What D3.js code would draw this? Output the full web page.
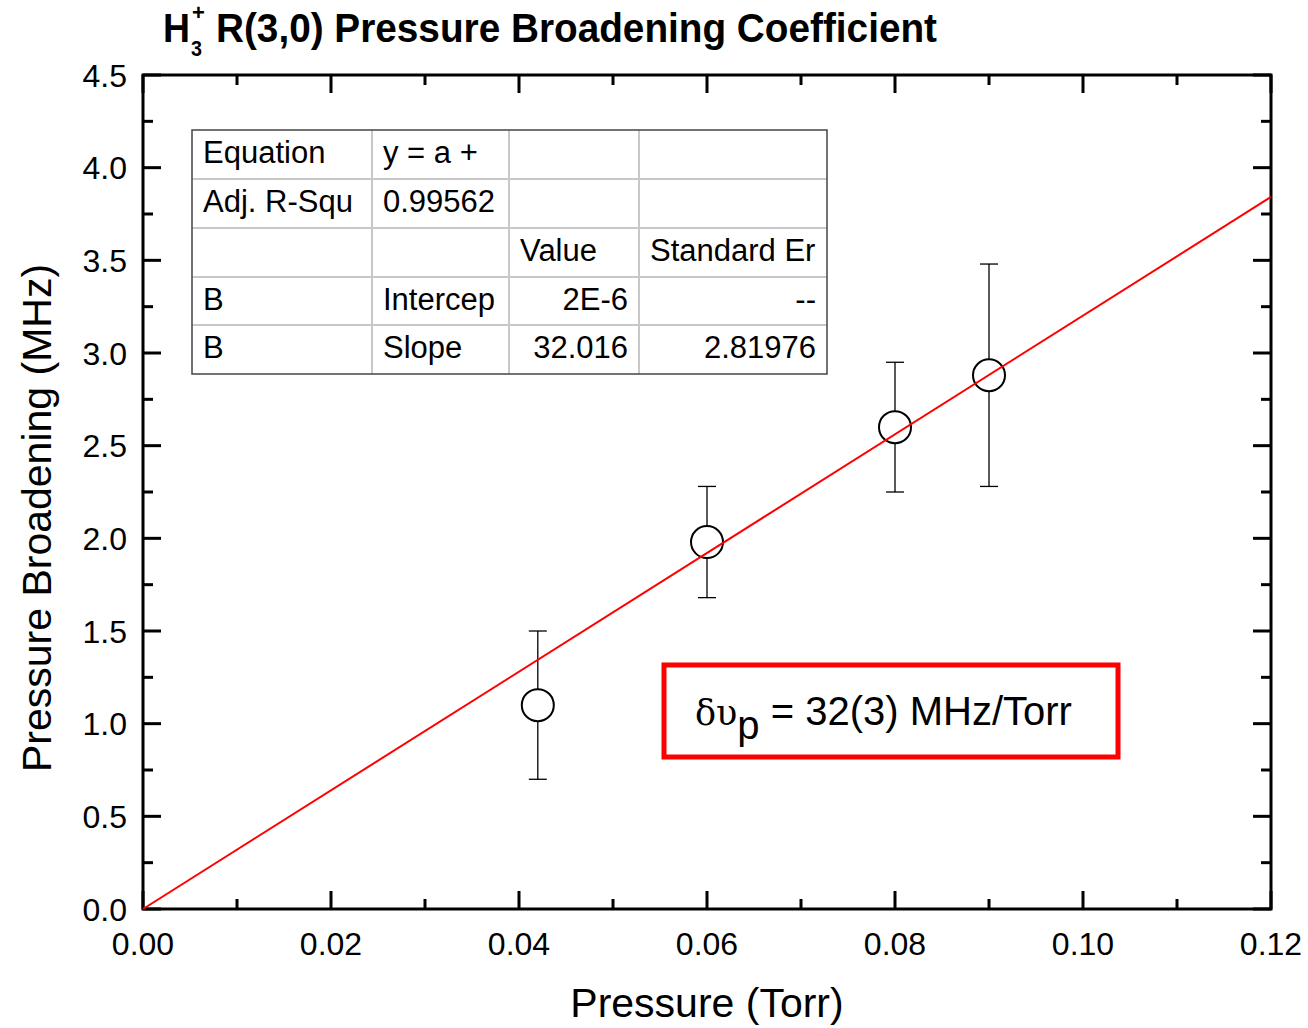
<!DOCTYPE html>
<html><head><meta charset="utf-8">
<script src="https://cdn.jsdelivr.net/npm/d3@7"></script>
<style>body{margin:0;background:#fff}svg{display:block}</style>
</head><body><svg id="c" width="1308" height="1028"></svg>
<script>
const pressure = [0.042, 0.06, 0.08, 0.09];
const broadening = [1.10, 1.98, 2.60, 2.88];
const errors = [0.40, 0.30, 0.35, 0.60];
const fitIntercept = 2e-6, fitSlope = 32.016;
const xMajor = [0, 0.02, 0.04, 0.06, 0.08, 0.10, 0.12];
const xMinor = [0.01, 0.03, 0.05, 0.07, 0.09, 0.11];
const yMajor = [0, 0.5, 1.0, 1.5, 2.0, 2.5, 3.0, 3.5, 4.0, 4.5];
const yMinor = [0.25, 0.75, 1.25, 1.75, 2.25, 2.75, 3.25, 3.75, 4.25];
const tableRows = [
  ["Equation", "y = a +", "", ""],
  ["Adj. R-Squ", "0.99562", "", ""],
  ["", "", "Value", "Standard Er"],
  ["B", "Intercep", "2E-6", "--"],
  ["B", "Slope", "32.016", "2.81976"]
];

const svg = d3.select("#c");
const L = 143, R = 1271, T = 75, B = 909;
const x = d3.scaleLinear().domain([0, 0.12]).range([L, R]);
const y = d3.scaleLinear().domain([0, 4.5]).range([B, T]);
const font = "'Liberation Sans', Arial, sans-serif";

// ticks (inward, all four sides)
const tk = svg.append("g").attr("stroke", "#000").attr("stroke-width", 3);
function tickX(vals, len) {
  vals.forEach(v => {
    tk.append("line").attr("x1", x(v)).attr("x2", x(v)).attr("y1", B).attr("y2", B - len);
    tk.append("line").attr("x1", x(v)).attr("x2", x(v)).attr("y1", T).attr("y2", T + len);
  });
}
function tickY(vals, len) {
  vals.forEach(v => {
    tk.append("line").attr("y1", y(v)).attr("y2", y(v)).attr("x1", L).attr("x2", L + len);
    tk.append("line").attr("y1", y(v)).attr("y2", y(v)).attr("x1", R).attr("x2", R - len);
  });
}
tickX(xMajor, 18); tickX(xMinor, 10);
tickY(yMajor, 18); tickY(yMinor, 10);

// frame
svg.append("rect").attr("x", L).attr("y", T).attr("width", R - L).attr("height", B - T)
  .attr("fill", "none").attr("stroke", "#000").attr("stroke-width", 3);

// tick labels
svg.append("g").selectAll("text").data(xMajor).join("text")
  .attr("x", d => x(d)).attr("y", 955).attr("text-anchor", "middle")
  .attr("font-family", font).attr("font-size", 32).text(d3.format(".2f"));
svg.append("g").selectAll("text").data(yMajor).join("text")
  .attr("x", 127).attr("y", d => y(d) + 11.5).attr("text-anchor", "end")
  .attr("font-family", font).attr("font-size", 32).text(d3.format(".1f"));

// axis titles
svg.append("text").attr("x", (L + R) / 2).attr("y", 1017).attr("text-anchor", "middle")
  .attr("font-family", font).attr("font-size", 41).text("Pressure (Torr)");
svg.append("text").attr("transform", `translate(51,${(T + B) / 2 + 26}) rotate(-90)`)
  .attr("text-anchor", "middle").attr("font-family", font).attr("font-size", 41)
  .text("Pressure Broadening (MHz)");

// title
const tg = svg.append("g").attr("font-family", font).attr("font-weight", "bold");
tg.append("text").attr("x", 163).attr("y", 42).attr("font-size", 40)
  .attr("textLength", 27).attr("lengthAdjust", "spacingAndGlyphs").text("H");
tg.append("text").attr("x", 192).attr("y", 20).attr("font-size", 22).text("+");
tg.append("text").attr("x", 191).attr("y", 56).attr("font-size", 22)
  .attr("textLength", 11).attr("lengthAdjust", "spacingAndGlyphs").text("3");
tg.append("text").attr("x", 216).attr("y", 42).attr("font-size", 40)
  .attr("textLength", 721).attr("lengthAdjust", "spacingAndGlyphs")
  .text("R(3,0) Pressure Broadening Coefficient");

// table
const colX = [192, 372, 509, 639, 827];
const rowY = [130, 179, 228, 277, 325, 374];
const tb = svg.append("g");
rowY.slice(1, -1).forEach(ry => tb.append("line").attr("x1", colX[0]).attr("x2", colX[4])
  .attr("y1", ry).attr("y2", ry).attr("stroke", "#c8c8c8").attr("stroke-width", 2));
colX.slice(1, -1).forEach(cx => tb.append("line").attr("x1", cx).attr("x2", cx)
  .attr("y1", rowY[0]).attr("y2", rowY[5]).attr("stroke", "#c8c8c8").attr("stroke-width", 2));
tb.append("rect").attr("x", colX[0]).attr("y", rowY[0]).attr("width", colX[4] - colX[0])
  .attr("height", rowY[5] - rowY[0]).attr("fill", "none").attr("stroke", "#444").attr("stroke-width", 1.5);
tableRows.forEach((row, ri) => {
  row.forEach((cell, ci) => {
    if (!cell) return;
    const rightAlign = ri >= 3 && ci >= 2;
    tb.append("text")
      .attr("x", rightAlign ? colX[ci + 1] - 11 : colX[ci] + 11)
      .attr("y", rowY[ri] + 33)
      .attr("text-anchor", rightAlign ? "end" : "start")
      .attr("font-family", font).attr("font-size", 31).text(cell);
  });
});

// error bars and points
const pts = pressure.map((p, i) => ({p, b: broadening[i], e: errors[i]}));
const eb = svg.append("g").attr("stroke", "#000").attr("stroke-width", 1.3);
pts.forEach(d => {
  eb.append("line").attr("x1", x(d.p)).attr("x2", x(d.p)).attr("y1", y(d.b + d.e)).attr("y2", y(d.b - d.e));
  eb.append("line").attr("x1", x(d.p) - 9).attr("x2", x(d.p) + 9).attr("y1", y(d.b + d.e)).attr("y2", y(d.b + d.e));
  eb.append("line").attr("x1", x(d.p) - 9).attr("x2", x(d.p) + 9).attr("y1", y(d.b - d.e)).attr("y2", y(d.b - d.e));
});
svg.append("g").selectAll("circle").data(pts).join("circle")
  .attr("cx", d => x(d.p)).attr("cy", d => y(d.b)).attr("r", 16)
  .attr("fill", "#fff").attr("stroke", "#000").attr("stroke-width", 2);

// fit line
svg.append("line").attr("x1", x(0)).attr("y1", y(fitIntercept))
  .attr("x2", x(0.12)).attr("y2", y(fitIntercept + fitSlope * 0.12))
  .attr("stroke", "#ff0000").attr("stroke-width", 2);

// annotation
svg.append("rect").attr("x", 664).attr("y", 665).attr("width", 454).attr("height", 92)
  .attr("fill", "#fff").attr("stroke", "#ff0000").attr("stroke-width", 5);
const at = svg.append("text").attr("x", 695).attr("y", 725).attr("font-size", 40).attr("font-family", font);
at.append("tspan").attr("font-family", "'DejaVu Serif', 'Liberation Serif', serif").attr("font-size", 35).text("δυ");
at.append("tspan").attr("dy", 14).text("p");
at.append("tspan").attr("dy", -14).text(" = 32(3) MHz/Torr");
</script></body></html>
